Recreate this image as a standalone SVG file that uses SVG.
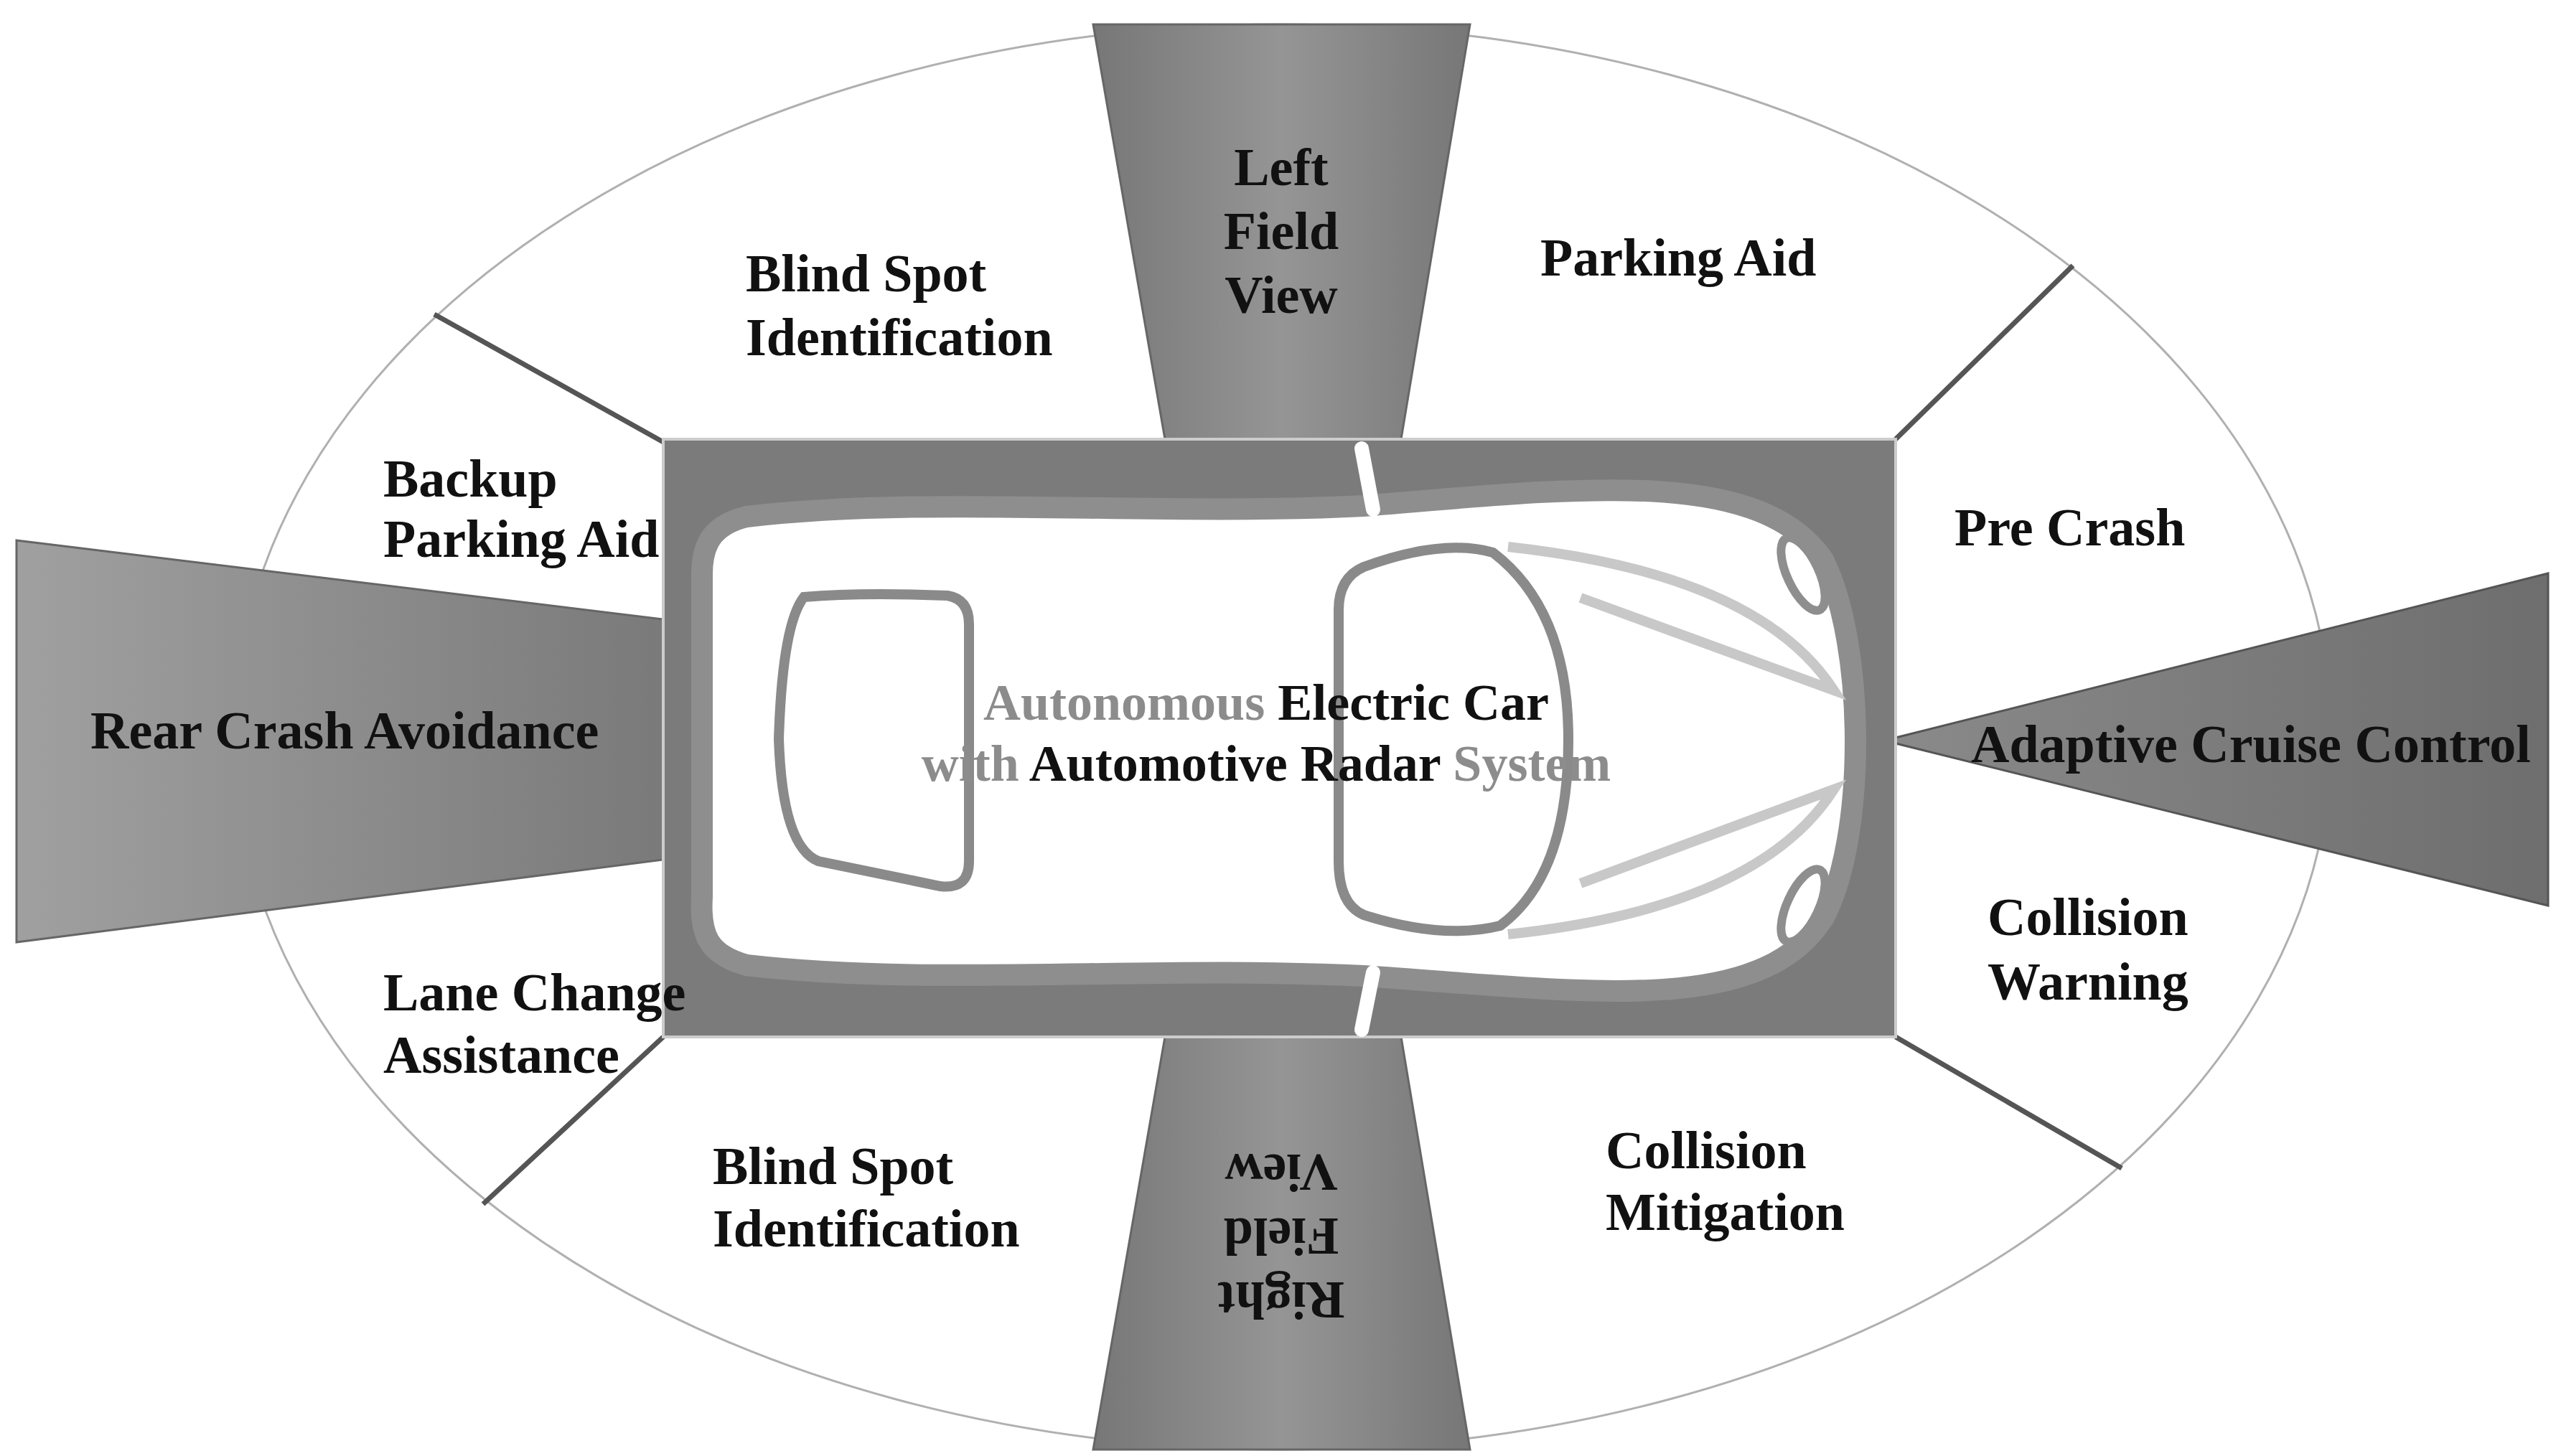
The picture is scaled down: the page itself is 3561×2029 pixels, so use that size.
<svg xmlns="http://www.w3.org/2000/svg" width="3561" height="2029" viewBox="0 0 3561 2029">
<defs>
<linearGradient id="gh" x1="0" y1="0" x2="1" y2="0"><stop offset="0" stop-color="#a0a0a0"/><stop offset="1" stop-color="#7a7a7a"/></linearGradient>
<linearGradient id="gv" x1="0" y1="0" x2="1" y2="0"><stop offset="0" stop-color="#777"/><stop offset="0.5" stop-color="#959595"/><stop offset="1" stop-color="#777"/></linearGradient>
<linearGradient id="gr" x1="0" y1="0" x2="1" y2="0"><stop offset="0" stop-color="#8a8a8a"/><stop offset="1" stop-color="#6e6e6e"/></linearGradient>
</defs>
<style>
.t{font-family:"Liberation Serif","DejaVu Serif",serif;font-weight:bold;font-size:74px;fill:#111}
.c{font-family:"Liberation Serif","DejaVu Serif",serif;font-weight:bold;font-size:72px;text-anchor:middle}
.g{fill:#8c8c8c}.k{fill:#111}
.div{stroke:#555;stroke-width:7}
.lo{stroke:#8a8a8a;fill:none}
</style>
<rect width="3561" height="2029" fill="#fff"/>
<g id="ellipse"><ellipse cx="1787" cy="1027" rx="1461" ry="993" fill="#fff" stroke="#b0b0b0" stroke-width="3"/></g>
<g id="connectors">
<line class="div" x1="924" y1="616" x2="605" y2="438"/>
<line class="div" x1="2641" y1="612" x2="2888" y2="370"/>
<line class="div" x1="924" y1="1445" x2="673" y2="1678"/>
<line class="div" x1="2641" y1="1445" x2="2956" y2="1628"/>
</g>
<g id="sectors">
<polygon points="1523,34 2048,34 1952,612 1623,612" fill="url(#gv)" stroke="#666" stroke-width="3"/>
<polygon points="1623,1445 1952,1445 2048,2020 1523,2020" fill="url(#gv)" stroke="#666" stroke-width="3"/>
<polygon points="23,753 924,863 924,1198 23,1313" fill="url(#gh)" stroke="#666" stroke-width="3"/>
<polygon points="3550,799 3550,1262 2625,1032" fill="url(#gr)" stroke="#555" stroke-width="3"/>
</g>
<g id="car">
<rect x="924" y="612" width="1717" height="833" fill="#7b7b7b" stroke="#ccc" stroke-width="4"/>
<path d="M1040 720 C1300 690 1600 720 1900 705 C2200 680 2450 650 2540 780 C2600 900 2600 1170 2540 1280 C2450 1420 2200 1380 1900 1360 C1600 1345 1300 1375 1040 1345 C985 1330 975 1300 978 1250 L978 800 C978 750 1000 730 1040 720 Z" fill="#fff" stroke="#8e8e8e" stroke-width="30"/>
<line x1="1897" y1="625" x2="1913" y2="710" stroke="#fff" stroke-width="20" stroke-linecap="round"/>
<line x1="1913" y1="1355" x2="1897" y2="1435" stroke="#fff" stroke-width="20" stroke-linecap="round"/>
<path class="lo" stroke-width="14" d="M1120 832 Q1200 825 1320 830 Q1350 835 1350 870 L1350 1200 Q1350 1240 1310 1235 L1140 1200 Q1090 1180 1085 1030 Q1090 870 1120 832 Z"/>
<path class="lo" stroke-width="14" d="M1900 790 Q2010 750 2080 770 Q2185 850 2185 1030 Q2185 1220 2090 1290 Q2010 1310 1900 1275 Q1865 1260 1865 1200 L1865 850 Q1865 805 1900 790 Z"/>
<path d="M2101 762 Q2450 800 2555 962 L2202 833 M2101 1302 Q2450 1265 2555 1100 L2202 1231" fill="none" stroke="#c8c8c8" stroke-width="14"/>
<ellipse cx="2512" cy="800" rx="22" ry="55" transform="rotate(-25 2512 800)" fill="#fff" stroke="#8e8e8e" stroke-width="12"/>
<ellipse cx="2512" cy="1262" rx="22" ry="55" transform="rotate(25 2512 1262)" fill="#fff" stroke="#8e8e8e" stroke-width="12"/>
<text class="c" x="1764" y="1003"><tspan class="g">Autonomous </tspan><tspan class="k">Electric Car</tspan></text>
<text class="c" x="1764" y="1088"><tspan class="g">with </tspan><tspan class="k">Automotive Radar </tspan><tspan class="g">System</tspan></text>
</g>
<g id="left-field"><text class="t" text-anchor="middle" x="1785" y="258">Left</text><text class="t" text-anchor="middle" x="1785" y="347">Field</text><text class="t" text-anchor="middle" x="1785" y="436">View</text></g>
<g id="right-field" transform="rotate(180 1785 1722)"><text class="t" text-anchor="middle" x="1785" y="1657">Right</text><text class="t" text-anchor="middle" x="1785" y="1746">Field</text><text class="t" text-anchor="middle" x="1785" y="1835">View</text></g>
<g id="blind-top"><text class="t" x="1039" y="406">Blind Spot</text><text class="t" x="1039" y="495">Identification</text></g>
<g id="parking-aid"><text class="t" x="2146" y="384">Parking Aid</text></g>
<g id="backup"><text class="t" x="534" y="692">Backup</text><text class="t" x="534" y="776">Parking Aid</text></g>
<g id="pre-crash"><text class="t" x="2723" y="760">Pre Crash</text></g>
<g id="rear-crash"><text class="t" x="126" y="1043">Rear Crash Avoidance</text></g>
<g id="acc"><text class="t" x="2746" y="1062">Adaptive Cruise Control</text></g>
<g id="collision-warning"><text class="t" x="2769" y="1303">Collision</text><text class="t" x="2769" y="1393">Warning</text></g>
<g id="lane-change"><text class="t" x="534" y="1408">Lane Change</text><text class="t" x="534" y="1495">Assistance</text></g>
<g id="blind-bottom"><text class="t" x="993" y="1650">Blind Spot</text><text class="t" x="993" y="1737">Identification</text></g>
<g id="collision-mitigation"><text class="t" x="2237" y="1628">Collision</text><text class="t" x="2237" y="1714">Mitigation</text></g>
</svg>
